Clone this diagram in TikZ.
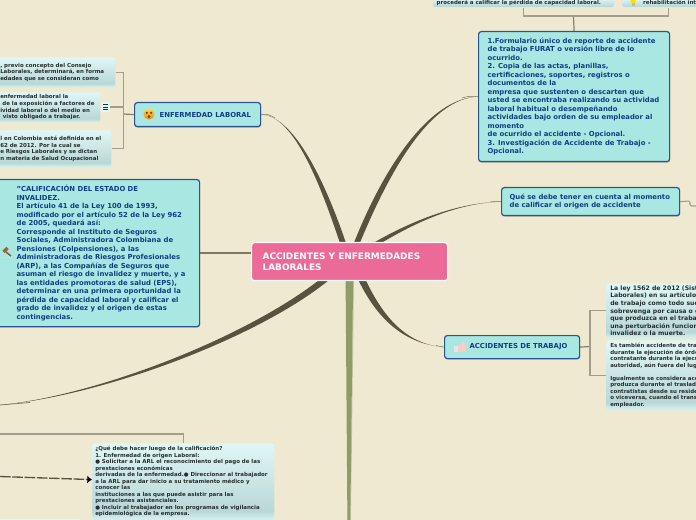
\documentclass[tikz,border=0pt]{standalone}
\usepackage{fontspec}
\setmainfont{DejaVu Sans}
\usetikzlibrary{shadows,arrows.meta}
\definecolor{bgc}{HTML}{F0E9D2}
\definecolor{tealf}{HTML}{A9E7E2}
\definecolor{navyb}{HTML}{2A5590}
\definecolor{navyt}{HTML}{123E85}
\definecolor{pinkf}{HTML}{EB6A97}
\definecolor{darkl}{HTML}{57533F}
\definecolor{thinl}{HTML}{A39E8C}
\definecolor{oliveg}{HTML}{8F9C68}
\definecolor{leaft}{HTML}{262F2F}
\definecolor{leafE}{HTML}{D2EFEE}
\definecolor{leafM}{HTML}{BAD7D7}
\definecolor{leafT}{HTML}{E0F7F6}
\pgfdeclareverticalshading{leafsh}{100bp}{
 color(0bp)=(leafE); color(26bp)=(leafE); color(31bp)=(leafM); color(75bp)=(leafT); color(100bp)=(leafT)}
\pgfdeclarelayer{bglayer}
\pgfdeclarelayer{connlayer}
\pgfsetlayers{bglayer,connlayer,main}
\newcommand\bx[3]{\hspace*{\dimexpr#1pt*3/4\relax}\parbox[c]{\dimexpr#2pt*3/4\relax}{\raggedright #3}}
\newcommand\taper[7]{\fill[darkl] (#1) .. controls (#2) and (#3) .. (#4) -- (#5) .. controls (#6) and (#7) .. (#1) -- cycle;}
\tikzset{
 topic/.style={draw=navyb,line width=0.9pt,fill=tealf,rounded corners=2pt,inner sep=0pt,
   text=navyt,font=\bfseries\fontsize{5.15}{6.38}\selectfont,anchor=north west,
   drop shadow={shadow xshift=0.3pt,shadow yshift=-0.7pt,fill=black,opacity=.3}},
 leaf/.style={rounded corners=2pt,shading=leafsh,inner sep=0pt,text=leaft,
   font=\bfseries\fontsize{4.1}{4.9}\selectfont,anchor=north west},
 bigleaf/.style={leaf,font=\bfseries\fontsize{4.6}{5.72}\selectfont},
 mainbox/.style={draw=white,line width=0.9pt,fill=pinkf,rounded corners=2pt,inner sep=0pt,text=white,
   font=\bfseries\fontsize{6.7}{8.3}\selectfont,anchor=north west},
 thinc/.style={draw=thinl,line width=0.8pt},
 midc/.style={draw=darkl!70!bgc,line width=0.9pt},
}
\begin{document}
\begin{tikzpicture}[x=0.75pt,y=-0.75pt]
\useasboundingbox (0,0) rectangle (696,520);

% main
\node[mainbox,minimum width=147pt,minimum height=28.5pt] (main) at (251,242)
  {\bx{11}{185}{ACCIDENTES Y ENFERMEDADES\\LABORALES}};

% topics
\node[topic,minimum width=94.5pt,minimum height=18pt] (enf) at (134,102)
  {\bx{25}{101}{ENFERMEDAD LABORAL}};
\node[topic,minimum width=156pt,minimum height=110.25pt] (cal) at (-9,179)
  {\bx{25}{183}{"CALIFICACIÓN DEL ESTADO DE\\INVALIDEZ.\\El artículo 41 de la Ley 100 de 1993,\\modificado por el artículo 52 de la Ley 962\\de 2005, quedará así:\\Corresponde al Instituto de Seguros\\Sociales, Administradora Colombiana de\\Pensiones (Colpensiones), a las\\Administradoras de Riesgos Profesionales\\(ARP), a las Compañías de Seguros que\\asuman el riesgo de invalidez y muerte, y a\\las entidades promotoras de salud (EPS),\\determinar en una primera oportunidad la\\pérdida de capacidad laboral y calificar el\\grado de invalidez y el origen de estas\\contingencias.}};
\node[topic,minimum width=143.25pt,minimum height=97.5pt] (fur) at (478,31)
  {\bx{9}{182}{1.Formulario único de reporte de accidente\\de trabajo FURAT o versión libre de lo\\ocurrido.\\2. Copia de las actas, planillas,\\certificaciones, soportes, registros o\\documentos de la\\empresa que sustenten o descarten que\\usted se encontraba realizando su actividad\\laboral habitual o desempeñando\\actividades bajo orden de su empleador al\\momento\\de ocurrido el accidente - Opcional.\\3. Investigación de Accidente de Trabajo -\\Opcional.}};
\node[topic,minimum width=133.5pt,minimum height=21pt] (que) at (501,187)
  {\bx{8}{170}{Qué se debe tener en cuenta al momento\\de calificar el origen de accidente}};
\node[topic,minimum width=101.25pt,minimum height=17.25pt] (acc) at (444,335)
  {\bx{25}{110}{ACCIDENTES DE TRABAJO}};

% left leaves
\node[leaf,minimum width=90pt,minimum height=22.5pt] (la) at (-5,57)
  {\bx{5}{115}{, previo concepto del Consejo\\Laborales, determinará, en forma\\edades que se consideran como}};
\node[leaf,minimum width=78.75pt,minimum height=22.5pt] (lb) at (-5,92)
  {\bx{5}{100}{enfermedad laboral la\\\hspace*{1.6pt}de la exposición a factores de\\ividad laboral o del medio en\\\hspace*{2pt}visto obligado a trabajar.}};
\node[leaf,minimum width=87pt,minimum height=27.75pt] (lc) at (-5,130)
  {\bx{5}{111}{l en Colombia está definida en el\\62 de 2012. Por la cual se\\e Riesgos Laborales y se dictan\\n materia de Salud Ocupacional}};
\node[fill=leafT,inner sep=0pt,minimum width=7pt,minimum height=7.5pt] (note) at (105.5,107) {};
\draw[leaft,line width=0.6pt] (103,104.5) -- (108,104.5) (103,107) -- (108,107) (103,109.5) -- (108,109.5);

% top leaves
\node[leaf,minimum width=136pt,minimum height=6.75pt] (ta) at (432.5,-2)
  {\bx{3.5}{177}{procederá a calificar la pérdida de capacidad laboral.}};
\node[leaf,minimum width=70pt,minimum height=6.75pt] (tb) at (622,-2)
  {\bx{20.5}{72}{rehabilitación int}};

% right leaves
\node[bigleaf,minimum width=90pt,minimum height=41.25pt] (ra) at (606,283)
  {\bx{4}{116}{La ley 1562 de 2012 (Sist\\Laborales) en su artículo\\de trabajo como todo suc\\sobrevenga por causa o c\\que produzca en el trabaj\\una perturbación funciona\\invalidez o la muerte.}};
\node[leaf,minimum width=90pt,minimum height=52.5pt] (rb) at (606,340)
  {\bx{4}{116}{Es también accidente de tra\\durante la ejecución de órde\\contratante durante la ejecu\\autoridad, aún fuera del lug\\\mbox{}\\Igualmente se considera acc\\produzca durante el traslad\\contratistas desde su reside\\o viceversa, cuando el trans\\empleador.}};

% bottom leaf
\node[leaf,minimum width=136.5pt,minimum height=57.5pt] (qb) at (92,443)
  {\bx{3}{179}{¿Qué debe hacer luego de la calificación?\\1. Enfermedad de origen Laboral:\\● Solicitar a la ARL el reconocimiento del pago de las\\prestaciones económicas\\derivadas de la enfermedad.● Direccionar al trabajador\\a la ARL para dar inicio a su tratamiento médico y\\conocer las\\instituciones a las que puede asistir para las\\prestaciones asistenciales.\\● Incluir al trabajador en los programas de vigilancia\\epidemiológica de la empresa.}};
\node[fill=leafT,inner sep=0pt,minimum width=60pt,minimum height=1pt,anchor=north west] (lowb) at (0,519) {};

% free ends and joints
\coordinate (eLow) at (0,405);
\coordinate (eBr) at (0,434);
\coordinate (eDash) at (0,476.5);
\coordinate (eBot) at (349,520);
\coordinate (eR) at (696,206);
\coordinate (jQa) at (690,201);
\coordinate (jQb) at (690,206);
\coordinate (jE) at (123.5,114);
\coordinate (jA) at (590,346.5);
\coordinate (jT) at (573.5,16);

% icons
\shade[top color=yellow!60!orange!70,bottom color=orange!85!brown] (149,114) circle[radius=5.5];
\fill[brown!50!black] (146.8,112.8) circle[radius=1.2] (151.2,112.8) circle[radius=1.2];
\fill[brown!60!black] (149,116.6) ellipse[x radius=1.5,y radius=1.7];
\fill[gray!20] (454,345.5) rectangle (458,352);
\fill[pink!70!bgc,rounded corners=1pt] (458,345.5) -- (461,345) -- (463,340.5) -- (465,342) -- (464.5,345.5) -- (467,346) -- (466,352) -- (458,352) -- cycle;
\draw[brown!70!black,line width=1.1pt] (6,252) -- (11,256);
\draw[brown!80!black,line width=2.6pt] (3.5,252) -- (7.5,248);
\draw[gray!30!white,line width=1pt] (0,257.5) -- (12,257.5);
\fill[yellow!80!orange] (633,1) circle[radius=2.7];
\fill[brown!50!bgc] (631.5,3.5) rectangle (634.5,6);

\begin{pgfonlayer}{bglayer}
\fill[bgc] (0,0) rectangle (696,520);
\end{pgfonlayer}

\begin{pgfonlayer}{connlayer}
% tapered branches to the central node
\coordinate (bEa) at ([xshift=-7.5pt]main.north); \coordinate (bEb) at ([xshift=-3pt]main.north);
\coordinate (bFa) at ([xshift=3.5pt]main.north); \coordinate (bFb) at ([xshift=8pt]main.north);
\coordinate (bQa) at ([xshift=19pt]main.north); \coordinate (bQb) at ([xshift=25pt]main.north);
\coordinate (bAa) at ([xshift=7pt]main.south); \coordinate (bAb) at ([xshift=12.5pt]main.south);
\coordinate (bLa) at ([xshift=-24pt]main.south); \coordinate (bLb) at ([xshift=-16.5pt]main.south);
\taper{enf.east}{295,115}{322,190}{bEa}{bEb}{328,190}{296,116}
\taper{fur.west}{430,98}{385,165}{bFa}{bFb}{391,168}{431,98.5}
\taper{que.west}{455,203}{410,222}{bQa}{bQb}{417,222}{456,203.5}
\taper{acc.west}{405,344}{378,320}{bAa}{bAb}{383,316}{406,344.5}
\taper{eLow}{100,395}{245,337}{bLa}{bLb}{254,340}{100,396.2}
\draw[darkl!80!bgc,line width=0.35pt] (enf.east) .. controls (268,114) .. (275,118);
\draw[darkl!80!bgc,line width=0.35pt] (fur.west) .. controls (470,96) .. (462,98);
\draw[darkl!80!bgc,line width=0.35pt] (que.west) -- (490,201.5);
\draw[darkl!80!bgc,line width=0.35pt] (acc.west) -- (436,345.5);
\draw[darkl!80!bgc,line width=0.5pt] (eLow) -- (30,402.5);
\draw[darkl!75!bgc,line width=1.1pt] (cal.east) -- (main.west |- cal.east);
% olive branch
\fill[oliveg!45!bgc] ([xshift=2.6pt]main.south) -- ([xshift=3.3pt]main.south) -- ([xshift=1.4pt]eBot) -- ([xshift=1pt]eBot) -- cycle;
\fill[oliveg] ([xshift=-3pt]main.south) -- ([xshift=2.6pt]main.south) -- ([xshift=1pt]eBot) -- ([xshift=-1.2pt]eBot) -- cycle;
% brackets
\draw[midc] (enf.west) -- (jE);
\draw[thinc] (la.east) -| (jE);
\draw[thinc] (lb.east) -- (note.west);
\draw[thinc] (note.east) -| (jE);
\draw[thinc] (lc.east) -| (jE);
\draw[midc] (fur.north) -- (jT);
\draw[thinc] (ta.south) |- (jT);
\draw[thinc] (tb.south) |- (jT);
\draw[thinc,rounded corners=1pt] (que.east) -- (jQa) -- (jQb) -- (eR);
\draw[midc] (acc.east) -- (jA);
\draw[thinc] (ra.west) -| (jA);
\draw[thinc] (rb.west) -| (jA);
\draw[thinc] (eBr) -| (qb.north);
\draw[darkl,line width=1pt,dash pattern=on 8pt off 1.2pt,-{Latex[length=3.5pt,width=6pt,black]}] (eDash) -- ([yshift=1.5pt]qb.west);
\end{pgfonlayer}
\end{tikzpicture}
\end{document}
